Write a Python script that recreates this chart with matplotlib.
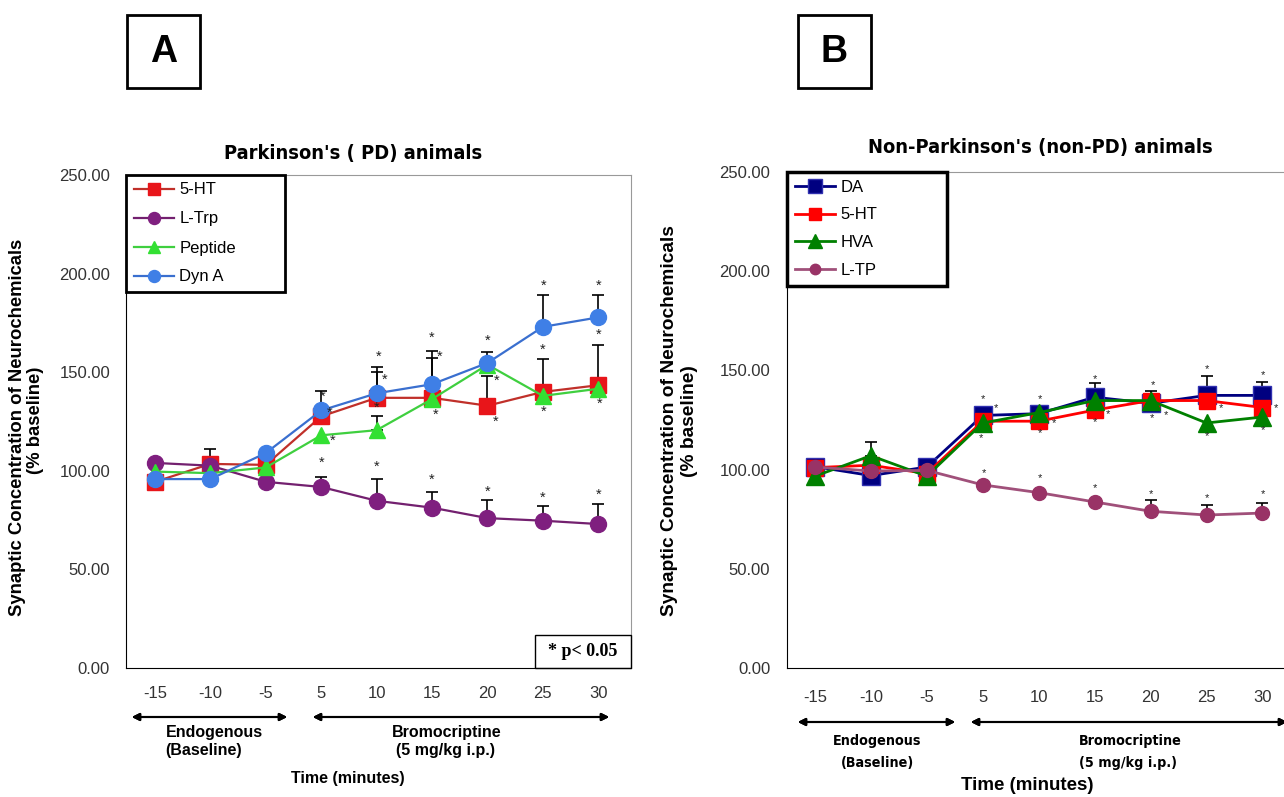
import matplotlib.pyplot as plt
from matplotlib import font_manager
from matplotlib.font_manager import FontProperties
from matplotlib.patches import Rectangle

W, H = 1284, 797

times = ['-15', '-10', '-5', '5', '10', '15', '20', '25', '30']
yticks = [0, 50, 100, 150, 200, 250]

# Panel A - Parkinson's (PD) animals
a_5ht = [94.4, 103.5, 103.0, 127.6, 137.0, 137.0, 133.0, 140.0, 143.4]
a_ltrp = [104.0, 102.6, 94.4, 91.8, 84.8, 81.3, 76.0, 74.7, 73.0]
a_peptide = [99.6, 98.8, 101.7, 118.0, 120.6, 136.4, 153.8, 138.0, 141.6]
a_dyn = [95.8, 95.8, 109.0, 130.6, 139.3, 143.9, 154.7, 173.0, 177.8]
# top of upper error bar, None where no bar is drawn
a_5ht_top = [None, 111, None, 140.5, 150, 157, 148, 156.5, 164]
a_ltrp_top = [None, None, None, 97, 95.6, 89, 85, 82, 83]
a_peptide_top = [None, None, None, None, 127.6, None, None, None, None]
a_dyn_top = [None, None, None, None, 152.4, 161, 160, 189, 189]
# significance asterisks (category index, value)
a_star_x = [3.02, 3.15, 3.21, 3.0, 4.04, 4.15, 4.0, 4.0, 5.0, 5.14, 5.06, 5.0,
            6.0, 6.17, 6.14, 6.0, 7.01, 7.0, 7.01, 7.0, 8.0, 8.0, 8.03, 8.0]
a_star_y = [137.4, 129.3, 115.2, 104.0, 157.9, 146.3, 132.0, 102.0, 167.5, 157.9, 128.4, 95.3,
            165.7, 145.4, 124.7, 89.2, 193.7, 161.3, 129.9, 86.5, 193.7, 169.2, 133.8, 87.9]

# Panel B - Non-Parkinson's (non-PD) animals
b_da = [101.5, 97.0, 101.3, 127.3, 128.2, 136.5, 133.4, 137.4, 137.4]
b_5ht = [101.0, 102.2, 98.0, 124.4, 124.4, 130.0, 134.8, 134.8, 131.3]
b_hva = [96.7, 107.0, 96.7, 123.5, 128.7, 134.8, 134.8, 123.5, 126.5]
b_ltp = [101.3, 99.3, 99.6, 92.3, 88.4, 83.7, 79.0, 77.1, 78.1]
b_da_top = [None, None, None, 131.7, None, 143.8, 139.6, 147.4, 144.3]
b_hva_top = [None, 113.7, None, None, None, None, None, None, None]
b_ltp_top = [None, None, None, None, None, None, 84.5, 82.3, 83.4]
b_star_x = [3.0, 3.24, 2.97, 3.02, 4.02, 4.27, 4.02, 4.02, 5.0, 5.24, 5.01, 5.0,
            6.04, 6.27, 6.02, 6.0, 7.0, 7.26, 7.0, 7.0, 8.01, 8.24, 8.01, 8.01]
b_star_y = [135.7, 131.0, 115.9, 98.4, 135.3, 123.5, 118.3, 95.5, 145.7, 127.8, 124.0, 90.6,
            142.6, 127.5, 126.1, 87.6, 150.7, 131.0, 117.0, 85.4, 147.8, 131.0, 120.0, 87.6]

plt.rcParams['font.family'] = ['Liberation Sans', 'DejaVu Sans']

# condensed bold font for the titles if one is installed
cond = FontProperties(family='DejaVu Sans', weight='bold', stretch='condensed')
if 'Condensed' in font_manager.findfont(cond):
    title_font = dict(fontproperties=FontProperties(family='DejaVu Sans', weight='bold',
                                                    stretch='condensed', size=14.4))
    small_font = dict(fontproperties=FontProperties(family='DejaVu Sans', weight='bold',
                                                    stretch='condensed', size=10.3))
else:
    title_font = dict(fontsize=14, fontweight='bold')
    small_font = dict(fontsize=10, fontweight='bold')


def fx(x):
    return x / W


def fy(y):
    return 1 - y / H


def err_bars(ax, vals, tops, cap):
    idx = [i for i, t in enumerate(tops) if t is not None]
    up = [tops[i] - vals[i] for i in idx]
    ax.errorbar(idx, [vals[i] for i in idx], yerr=[[0] * len(idx), up], fmt='none',
                ecolor='black', elinewidth=1.2, capsize=cap, capthick=1.2, zorder=1)


def setup_axes(ax, xlim, pad_x, pad_y):
    ax.set_xlim(*xlim)
    ax.set_ylim(0, 250)
    ax.set_xticks(range(len(times)))
    ax.set_xticklabels(times)
    ax.set_yticks(yticks)
    ax.set_yticklabels([f'{v:.2f}' for v in yticks])
    ax.tick_params(axis='x', length=0, pad=pad_x, labelsize=12, labelcolor='#333333')
    ax.tick_params(axis='y', length=0, pad=pad_y, labelsize=12, labelcolor='#333333')
    ax.spines['left'].set_color('black')
    ax.spines['bottom'].set_color('black')
    ax.spines['top'].set_color('#999999')
    ax.spines['right'].set_color('#999999')


def boxed_legend(ax, width, spacing, lw):
    leg = ax.legend(loc='upper left', bbox_to_anchor=(0, 0, width, 1), mode='expand',
                    borderaxespad=0, fontsize=12, markerscale=0.75, handlelength=2.4,
                    handletextpad=0.35, labelspacing=spacing, borderpad=0.45,
                    fancybox=False, framealpha=1)
    leg.get_frame().set_edgecolor('black')
    leg.get_frame().set_linewidth(lw)


fig = plt.figure(figsize=(W / 100, H / 100), dpi=100)
x = list(range(len(times)))

# ---------------- panel A ----------------
axa = fig.add_axes([fx(126), fy(668), fx(631 - 126), (668 - 175) / H])
setup_axes(axa, (-0.523, 8.59), 13, 11.5)

err_bars(axa, a_5ht, a_5ht_top, 4)
err_bars(axa, a_ltrp, a_ltrp_top, 4)
err_bars(axa, a_peptide, a_peptide_top, 4)
err_bars(axa, a_dyn, a_dyn_top, 4)

axa.plot(x, a_5ht, color='#c0302a', lw=1.6, marker='s', ms=11, mfc='#e8151a', mec='#e8151a',
         label='5-HT', zorder=3)
axa.plot(x, a_ltrp, color='#73206f', lw=1.6, marker='o', ms=11.5, mfc='#7f1f7f', mec='#7f1f7f',
         label='L-Trp', zorder=4)
axa.plot(x, a_peptide, color='#3fcf3f', lw=1.6, marker='^', ms=12, mfc='#33e033', mec='#33e033',
         label='Peptide', zorder=5)
axa.plot(x, a_dyn, color='#3a6fcf', lw=1.6, marker='o', ms=11.5, mfc='#3f7fe6', mec='#3f7fe6',
         label='Dyn A', zorder=6)

for sx, sy in zip(a_star_x, a_star_y):
    axa.text(sx, sy, '*', ha='center', va='center', fontsize=10.5, color='#222222', zorder=7)

boxed_legend(axa, 159 / 505, 0.84, 2)

# p-value box
fig.add_artist(Rectangle((fx(535), fy(668)), fx(631 - 535), (668 - 635) / H,
                         transform=fig.transFigure, fill=False, ec='black', lw=1))
fig.text(fx(583), fy(651), '* p< 0.05', ha='center', va='center', fontsize=13,
         fontweight='bold', family=['Liberation Serif', 'DejaVu Serif'])

fig.text(fx(353), fy(153), "Parkinson's ( PD) animals", ha='center', va='center', **title_font)
fig.text(fx(18), fy(427), 'Synaptic Concentration of Neurochemicals', rotation=90,
         ha='center', va='center', fontsize=13.3, fontweight='bold')
fig.text(fx(36), fy(420), '(% baseline)', rotation=90, ha='center', va='center',
         fontsize=13.3, fontweight='bold')

arrow = dict(arrowstyle='<|-|>', color='black', lw=1.5, mutation_scale=11)
fig.add_artist(plt.annotate('', xy=(fx(290), fy(717)), xytext=(fx(129), fy(717)),
                            xycoords='figure fraction', arrowprops=arrow))
fig.add_artist(plt.annotate('', xy=(fx(612), fy(717)), xytext=(fx(310), fy(717)),
                            xycoords='figure fraction', arrowprops=arrow))
fig.text(fx(214), fy(733), 'Endogenous', ha='center', va='center', fontsize=11.5, fontweight='bold')
fig.text(fx(204), fy(751), '(Baseline)', ha='center', va='center', fontsize=11.5, fontweight='bold')
fig.text(fx(447), fy(733), 'Bromocriptine', ha='center', va='center', fontsize=11.5, fontweight='bold')
fig.text(fx(445), fy(751), '(5 mg/kg i.p.)', ha='center', va='center', fontsize=11.5, fontweight='bold')
fig.text(fx(348), fy(778), 'Time (minutes)', ha='center', va='center', fontsize=11.5, fontweight='bold')

# ---------------- panel B ----------------
axb = fig.add_axes([fx(787), fy(668), fx(1296 - 787), (668 - 172) / H])
setup_axes(axb, (-0.5, 8.6), 16, 12)
axb.spines['right'].set_visible(False)

err_bars(axb, b_da, b_da_top, 4)
err_bars(axb, b_hva, b_hva_top, 4)
err_bars(axb, b_ltp, b_ltp_top, 4)

axb.plot(x, b_da, color='#000080', lw=2, marker='s', ms=13.5, mfc='#000080', mec='#3030b0',
         label='DA', zorder=3)
axb.plot(x, b_5ht, color='#ff0000', lw=2, marker='s', ms=11.5, mfc='#ff0000', mec='#ff0000',
         label='5-HT', zorder=4)
axb.plot(x, b_hva, color='#008000', lw=2, marker='^', ms=12.5, mfc='#008000', mec='#008000',
         label='HVA', zorder=5)
axb.plot(x, b_ltp, color='#a0507a', lw=2, marker='o', ms=10, mfc='#993366', mec='#993366',
         label='L-TP', zorder=6)

for sx, sy in zip(b_star_x, b_star_y):
    axb.text(sx, sy, '*', ha='center', va='center', fontsize=8, color='#222222', zorder=7)

boxed_legend(axb, 160 / 509, 0.77, 2.5)

fig.text(fx(1040), fy(148), "Non-Parkinson's (non-PD) animals", ha='center', va='center',
         **title_font)
fig.text(fx(670), fy(421), 'Synaptic Concentration of Neurochemicals', rotation=90,
         ha='center', va='center', fontsize=13.8, fontweight='bold')
fig.text(fx(689), fy(421), '(% baseline)', rotation=90, ha='center', va='center',
         fontsize=13.8, fontweight='bold')

fig.add_artist(plt.annotate('', xy=(fx(958), fy(722)), xytext=(fx(795), fy(722)),
                            xycoords='figure fraction', arrowprops=arrow))
fig.add_artist(plt.annotate('', xy=(fx(1290), fy(722)), xytext=(fx(968), fy(722)),
                            xycoords='figure fraction', arrowprops=arrow))
fig.text(fx(877), fy(741), 'Endogenous', ha='center', va='center', **small_font)
fig.text(fx(877), fy(763), '(Baseline)', ha='center', va='center', **small_font)
fig.text(fx(1130), fy(741), 'Bromocriptine', ha='center', va='center', **small_font)
fig.text(fx(1128), fy(763), '(5 mg/kg i.p.)', ha='center', va='center', **small_font)
fig.text(fx(1027), fy(786), 'Time (minutes)', ha='center', va='center', fontsize=13.5,
         fontweight='bold')

# panel letters
for lx, letter in [(127, 'A'), (798, 'B')]:
    fig.add_artist(Rectangle((fx(lx), fy(88)), fx(73), 73 / H, transform=fig.transFigure,
                             fill=False, ec='black', lw=2))
    fig.text(fx(lx + 36.5), fy(52), letter, ha='center', va='center', fontsize=27,
             fontweight='bold')

fig.savefig('out.png', dpi=100)
